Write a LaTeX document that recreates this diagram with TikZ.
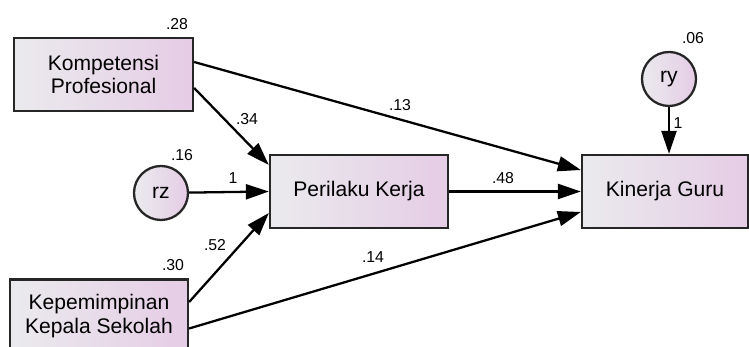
\documentclass[tikz,border=0pt]{standalone}
\usepackage{fontspec}
\setmainfont{Liberation Sans}
\usepackage{tikz}
\usetikzlibrary{shapes, arrows.meta, positioning}

\begin{document}
\begin{tikzpicture}[
            box/.style={draw=black!85, rectangle, line width=1.3pt, left color=blue!8!gray!15, right color=violet!20, minimum height=1.46cm, align=center, font=\fontsize{12}{13.5}\selectfont},
            err/.style={draw=black!85, circle, line width=1.3pt, left color=blue!8!gray!15, right color=violet!20, minimum size=1.08cm, inner sep=0pt, font=\fontsize{12}{13.5}\selectfont},
            num/.style={font=\fontsize{9}{10}\selectfont, inner sep=1pt},
            path/.style={-{Triangle[length=0.46cm, width=0.3cm]}, line width=1.3pt}]
            \useasboundingbox (0,0) rectangle (14.98,6.94);
            \node[box, minimum width=3.58cm] (komp) at (2.07,5.45) {Kompetensi\\Profesional};
            \node[box, minimum width=3.56cm] (kep) at (1.98,0.62) {Kepemimpinan\\Kepala Sekolah};
            \node[box, minimum width=3.56cm] (peri) at (7.18,3.11) {Perilaku Kerja};
            \node[box, minimum width=3.32cm] (kin) at (13.30,3.11) {Kinerja Guru};
            \node[err] (rz) at (3.22,3.08) {rz};
            \node[err] (ry) at (13.38,5.36) {ry};

            % variances
            \node[num] (v28) at (3.54,6.46) {.28};
            \node[num] (v30) at (3.46,1.64) {.30};
            \node[num] (v16) at (3.64,3.84) {.16};
            \node[num] (v06) at (13.86,6.18) {.06};

            % weights
            \node[num] (w34) at (4.94,4.56) {.34};
            \node[num] (w13) at (8.00,4.84) {.13};
            \node[num] (wz) at (4.66,3.38) {1};
            \node[num] (w52) at (4.30,2.04) {.52};
            \node[num] (w14) at (7.46,1.80) {.14};
            \node[num] (w48) at (10.06,3.38) {.48};
            \node[num] (wy) at (13.56,4.48) {1};

            \draw[path] ([yshift=-0.27cm]komp.east) -- ([yshift=0.53cm]peri.west);
            \draw[path] ([yshift=0.25cm]komp.east) -- ([yshift=0.43cm]kin.west);
            \draw[path] (rz) -- (peri.west);
            \draw[path] ([yshift=0.28cm]kep.east) -- ([yshift=-0.43cm]peri.west);
            \draw[path] ([yshift=-0.25cm]kep.east) -- ([yshift=-0.41cm]kin.west);
            \draw[path] (peri.east) -- (kin.west);
            \draw[path] (ry.south) -- (ry.south |- kin.north);
        \end{tikzpicture}
\end{document}
